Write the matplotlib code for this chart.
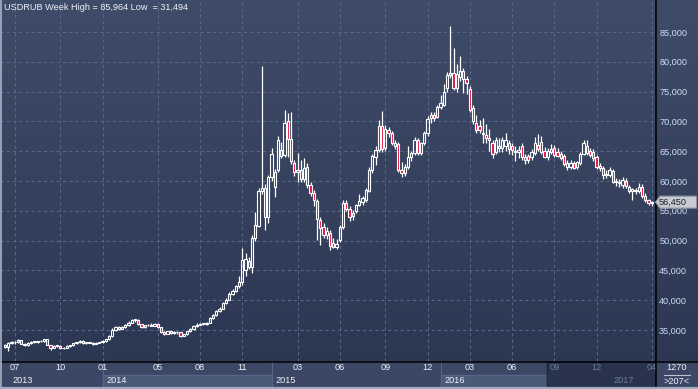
import numpy as np
import pandas as pd
import matplotlib
matplotlib.use('Agg')
import matplotlib.pyplot as plt
from matplotlib.lines import Line2D
from matplotlib.patches import Rectangle, Polygon
from matplotlib.transforms import IdentityTransform
from matplotlib.colors import LinearSegmentedColormap

plt.rcParams['font.family'] = ['Liberation Sans', 'DejaVu Sans']

# ---------------- data (weekly USDRUB, thousands of roubles) ----------------
opens = [32.45, 32.15, 32.85, 32.90, 32.95, 33.30, 32.70, 32.40, 32.80, 33.00,
         32.95, 33.10, 33.15, 33.40, 32.50, 32.00, 32.35, 32.30, 31.90, 32.00,
         32.35, 32.40, 32.75, 32.90, 33.15, 32.80, 32.95, 32.85, 32.65, 32.85,
         32.95, 33.15, 33.40, 34.00, 34.95, 35.50, 35.15, 35.55, 35.80, 36.25,
         36.75, 36.65, 35.95, 35.55, 35.75, 35.80, 35.70, 35.95, 35.45, 34.65,
         34.40, 34.75, 34.55, 34.70, 34.60, 34.05, 34.30, 34.75, 35.15, 35.65,
         35.90, 36.05, 36.00, 36.20, 36.95, 37.50, 38.10, 38.55, 39.45, 40.10,
         41.00, 41.60, 42.30, 43.00, 45.00, 46.60, 45.60, 50.40, 52.50, 58.30,
         58.80, 53.90, 60.70, 59.00, 61.80, 65.20, 64.40, 70.10, 67.00, 63.00,
         61.50, 61.80, 60.30, 62.30, 59.30, 58.00, 56.60, 53.50, 52.30, 50.90,
         51.30, 49.60, 49.00, 50.10, 52.30, 56.30, 55.30, 54.60, 55.00, 56.00,
         56.40, 56.80, 58.40, 61.80, 64.10, 65.20, 69.20, 65.50, 68.60, 68.00,
         66.40, 66.20, 61.80, 61.30, 62.40, 64.10, 64.70, 66.90, 64.70, 66.40,
         68.00, 70.50, 71.10, 70.80, 72.40, 72.80, 75.60, 77.80, 78.10, 75.60,
         77.50, 78.50, 77.10, 75.40, 72.20, 69.80, 69.30, 67.80, 67.70, 67.20,
         66.40, 64.90, 65.90, 65.50, 65.80, 66.30, 65.80, 65.10, 64.90, 65.90,
         63.60, 64.20, 64.00, 64.70, 66.00, 64.90, 65.10, 64.10, 64.90, 65.50,
         64.90, 64.60, 64.20, 63.00, 62.40, 63.00, 62.40, 63.00, 64.50, 65.80,
         65.00, 64.90, 64.00, 62.50, 62.10, 61.00, 61.00, 61.60, 59.90, 59.70,
         59.30, 60.00, 59.00, 58.30, 58.30, 58.40, 59.00, 57.50, 56.80, 56.30]
highs = [32.60, 32.95, 33.10, 33.10, 33.40, 33.35, 32.85, 32.90, 33.10, 33.15,
         33.20, 33.30, 33.50, 33.45, 32.55, 32.45, 32.50, 32.40, 32.10, 32.45,
         32.55, 32.85, 33.05, 33.30, 33.25, 33.05, 33.05, 33.00, 32.95, 33.05,
         33.30, 33.55, 34.20, 35.30, 35.70, 35.65, 35.70, 36.00, 36.50, 36.90,
         36.85, 36.80, 36.00, 35.90, 36.00, 36.10, 36.15, 36.00, 35.50, 34.80,
         34.90, 34.90, 34.85, 34.80, 34.65, 34.40, 34.90, 35.30, 35.80, 36.10,
         36.20, 36.25, 36.40, 37.20, 37.70, 38.30, 38.80, 39.70, 40.30, 41.30,
         41.80, 42.60, 44.00, 48.80, 47.90, 47.20, 51.00, 54.80, 58.80, 79.30,
         59.50, 61.00, 65.50, 62.00, 67.50, 66.50, 71.90, 71.40, 71.60, 63.50,
         64.70, 63.50, 63.80, 63.00, 59.80, 58.50, 57.00, 54.00, 53.00, 52.30,
         51.80, 50.50, 50.30, 52.60, 56.80, 56.80, 55.80, 55.20, 56.20, 57.80,
         57.50, 58.90, 62.30, 64.60, 65.80, 70.30, 71.70, 69.40, 69.00, 68.40,
         66.80, 66.50, 63.20, 62.80, 65.80, 65.00, 67.30, 67.20, 66.60, 68.40,
         70.90, 71.60, 71.60, 72.80, 74.40, 76.20, 78.30, 85.964, 82.30, 79.70,
         80.90, 79.00, 77.60, 76.00, 72.80, 71.00, 70.20, 70.60, 69.60, 68.80,
         66.80, 67.40, 67.20, 67.40, 68.10, 66.80, 66.40, 65.80, 65.90, 66.30,
         64.50, 64.60, 65.30, 67.40, 67.80, 67.60, 65.70, 65.60, 66.20, 66.00,
         65.50, 65.00, 64.50, 63.50, 63.50, 63.30, 63.40, 64.90, 66.90, 66.80,
         65.60, 65.30, 64.30, 63.00, 62.50, 61.80, 62.30, 62.00, 60.50, 60.30,
         60.60, 60.50, 59.40, 58.90, 58.80, 59.60, 59.50, 57.90, 57.00, 56.70]
lows = [32.05, 31.494, 32.60, 32.70, 32.85, 32.60, 32.30, 32.30, 32.70, 32.85,
        32.85, 32.95, 33.05, 32.40, 31.70, 31.95, 32.20, 31.80, 31.75, 31.90,
        32.20, 32.35, 32.65, 32.80, 32.70, 32.70, 32.75, 32.55, 32.60, 32.75,
        32.85, 33.05, 33.35, 33.90, 34.80, 35.05, 35.10, 35.40, 35.70, 36.10,
        36.40, 35.80, 35.40, 35.40, 35.60, 35.65, 35.60, 35.40, 34.50, 34.20,
        34.30, 34.40, 34.40, 34.35, 33.80, 33.95, 34.20, 34.65, 35.05, 35.55,
        35.75, 35.85, 35.90, 36.10, 36.85, 37.40, 37.95, 38.45, 39.30, 40.00,
        40.80, 41.40, 42.00, 42.50, 44.00, 45.20, 44.50, 50.00, 52.20, 57.80,
        51.80, 53.00, 60.00, 57.30, 61.50, 63.80, 64.00, 64.00, 62.80, 60.80,
        59.80, 59.90, 59.80, 58.80, 57.50, 55.80, 50.10, 49.30, 50.50, 50.30,
        48.50, 48.70, 48.60, 49.80, 52.00, 55.00, 53.20, 53.50, 54.60, 55.80,
        56.00, 56.50, 58.10, 61.40, 62.70, 64.90, 64.90, 65.00, 67.40, 66.00,
        65.30, 61.50, 60.70, 60.90, 62.00, 63.40, 64.30, 64.30, 64.40, 66.10,
        67.60, 69.80, 70.00, 70.50, 72.00, 72.50, 75.00, 77.20, 75.20, 75.00,
        76.80, 74.80, 74.60, 71.50, 69.50, 68.00, 68.00, 66.40, 66.30, 65.00,
        63.80, 64.50, 64.80, 64.80, 65.00, 64.60, 64.30, 63.40, 63.80, 63.50,
        62.90, 63.00, 63.50, 64.40, 65.00, 64.50, 63.80, 63.60, 64.50, 64.00,
        64.00, 63.50, 62.50, 61.80, 62.00, 62.00, 62.00, 62.70, 64.30, 64.30,
        64.00, 63.40, 62.00, 61.70, 60.30, 60.50, 60.70, 59.60, 59.20, 59.00,
        58.90, 58.90, 58.00, 56.80, 57.80, 58.00, 57.20, 56.50, 55.90, 55.80]
closes = [32.15, 32.85, 32.90, 32.95, 33.30, 32.70, 32.40, 32.80, 33.00, 32.95,
          33.10, 33.15, 33.40, 32.50, 32.00, 32.35, 32.30, 31.90, 32.00, 32.35,
          32.40, 32.75, 32.90, 33.15, 32.80, 32.95, 32.85, 32.65, 32.85, 32.95,
          33.15, 33.40, 34.00, 34.95, 35.50, 35.15, 35.55, 35.80, 36.25, 36.75,
          36.65, 35.95, 35.55, 35.75, 35.80, 35.70, 35.95, 35.45, 34.65, 34.40,
          34.75, 34.55, 34.70, 34.60, 34.05, 34.30, 34.75, 35.15, 35.65, 35.90,
          36.05, 36.00, 36.20, 36.95, 37.50, 38.10, 38.55, 39.45, 40.10, 41.00,
          41.60, 42.30, 43.00, 46.80, 46.90, 45.60, 50.50, 52.60, 58.30, 58.80,
          53.90, 60.70, 64.50, 61.50, 66.90, 64.20, 69.70, 67.00, 63.40, 61.50,
          61.90, 60.30, 62.20, 59.30, 58.00, 56.80, 53.60, 52.10, 50.90, 51.60,
          49.10, 49.00, 49.50, 52.30, 56.30, 55.30, 54.00, 54.10, 56.00, 56.60,
          57.10, 58.50, 61.80, 64.20, 65.20, 69.20, 65.40, 68.70, 68.00, 66.40,
          65.80, 61.80, 61.30, 62.40, 64.10, 64.70, 66.90, 64.70, 66.40, 68.10,
          70.40, 71.00, 70.60, 72.40, 73.10, 75.00, 77.80, 78.10, 75.60, 77.90,
          78.50, 77.10, 76.40, 71.90, 70.00, 68.60, 68.60, 68.10, 67.20, 66.80,
          64.50, 66.90, 65.50, 66.80, 66.90, 65.30, 65.20, 64.90, 65.20, 64.00,
          64.10, 63.60, 64.90, 66.40, 65.30, 66.60, 64.10, 65.10, 65.30, 64.40,
          64.20, 63.90, 62.90, 62.40, 63.00, 62.20, 63.20, 64.60, 66.30, 64.70,
          64.40, 63.80, 62.40, 62.10, 61.00, 61.20, 61.80, 59.90, 60.00, 59.90,
          60.20, 59.20, 58.40, 58.70, 58.50, 59.00, 57.40, 56.80, 56.30, 56.45]

first_week = '2013-06-10'
tick_months = ['2013-07', '2013-10', '2014-01', '2014-05', '2014-08', '2014-11',
               '2015-03', '2015-06', '2015-09', '2015-12', '2016-03', '2016-06',
               '2016-09', '2016-12', '2017-04']
tick_labels = ['07', '10', '01', '05', '08', '11', '03', '06', '09', '12',
               '03', '06', '09', '12', '04']
year_labels = ['2013', '2014', '2015', '2016', '2017']
price_ticks = [35, 40, 45, 50, 55, 60, 65, 70, 75, 80, 85]
bars_label = '1270'
visible_label = '>207<'

# ---------------- layout helpers ----------------
W, H = 698, 389
PX_PER_BAR = 3.25
FIRST_BAR_PX = 5.0
PLOT_R = 655
AX_BOTTOM = 361
Y_TOP = 90.37
Y_BOT = 29.79

n = len(closes)
x = np.arange(n)
weeks = pd.date_range(first_week, periods=n, freq='7D')


def bar_of(date_str):
    d = pd.Timestamp(date_str)
    return int(np.searchsorted(weeks.values, d.to_datetime64()))


tick_pos = [bar_of(m + '-01') for m in tick_months]
year_pos = [bar_of(y + '-01-01') for y in year_labels]

xlim = (-FIRST_BAR_PX / PX_PER_BAR, (PLOT_R - FIRST_BAR_PX) / PX_PER_BAR)

fig = plt.figure(figsize=(W / 100, H / 100), dpi=100)

# background gradient
bgax = fig.add_axes([0, 0, 1, 1], zorder=0)
cmap = LinearSegmentedColormap.from_list('bg', ['#3f4c69', '#2b3651'])
grad = np.linspace(0, 1, 256).reshape(-1, 1)
bgax.imshow(grad, aspect='auto', cmap=cmap, extent=[0, 1, 0, 1],
            transform=bgax.transAxes, interpolation='bilinear')
bgax.set_axis_off()

ax = fig.add_axes([0, (H - AX_BOTTOM) / H, PLOT_R / W, AX_BOTTOM / H], zorder=2)
ax.set_facecolor('none')
ax.set_xlim(*xlim)
ax.set_ylim(Y_BOT, Y_TOP)
for s in ax.spines.values():
    s.set_visible(False)

grid_col = '#58678a'
for p in price_ticks:
    ax.axhline(p, color=grid_col, lw=0.75, ls=(0, (3, 3)), zorder=1)
for t in tick_pos:
    ax.axvline(t, color=grid_col, lw=0.75, ls=(0, (3, 3)), zorder=1)

o = np.array(opens)
c = np.array(closes)
hi = np.array(highs)
lo = np.array(lows)
top = np.maximum(o, c)
bot = np.minimum(o, c)
ax.vlines(x, lo, bot, color='white', lw=0.9, zorder=3)
ax.vlines(x, top, hi, color='white', lw=0.9, zorder=3)
heights = np.maximum(top - bot, 0.12)
faces = ['#e3133f' if cc < oo else 'none' for oo, cc in zip(o, c)]
ax.bar(x, heights, bottom=bot, width=0.62, color=faces, edgecolor='white',
       linewidth=0.8, zorder=4)

ax.set_xticks([])
ax.yaxis.tick_right()
ax.set_yticks(price_ticks)
ax.set_yticklabels([f"{int(p * 1000):,}" for p in price_ticks])
ax.tick_params(axis='y', length=0, pad=3, labelsize=6.6, labelcolor='#cddcf2')

# header
ax.text(4 / PLOT_R, 1 - 8 / AX_BOTTOM,
        f"USDRUB Week High = {max(highs) * 1000:,.0f} Low  = {min(lows) * 1000:,.0f}",
        transform=ax.transAxes, ha='left', va='center', fontsize=6.6,
        color='#eef1f6')

# ---------------- bottom time panel ----------------
axb = fig.add_axes([0, 0, PLOT_R / W, (H - AX_BOTTOM) / H], zorder=2)
axb.set_xlim(*xlim)
axb.set_ylim(0, H - AX_BOTTOM)
axb.set_facecolor('#3b4764')
axb.set_axis_off()
axb.add_patch(Rectangle((xlim[0], 0), xlim[1] - xlim[0], 28, color='#3b4764', zorder=0))
shade_start = (547 - FIRST_BAR_PX) / PX_PER_BAR
band_col = '#4b5a78'
yb = list(year_pos) + [xlim[1]]
for k in range(len(year_labels)):
    x0 = max(yb[k], xlim[0]) if k > 0 else xlim[0]
    x1 = min(yb[k + 1], shade_start)
    if k % 2 == 1 and x1 > x0:
        axb.add_patch(Rectangle((x0, 2), x1 - x0, 12.5, color=band_col, zorder=1))
        axb.plot([x0, x1], [14.5, 14.5], color='#56668a', lw=0.8, zorder=2)
axb.add_patch(Rectangle((shade_start, 2), xlim[1] - shade_start, 26, color='#29334e', zorder=3))
axb.plot([shade_start, shade_start], [2, 28], color='#222a40', lw=1, zorder=4)
for k in range(1, len(year_labels)):
    if year_pos[k] < shade_start:
        axb.plot([year_pos[k], year_pos[k]], [2, 28], color='#56668a', lw=0.8, zorder=2)
for t, lab in zip(tick_pos, tick_labels):
    col = '#eef2f8' if t < shade_start else '#6f7e98'
    axb.text(t, 21, lab, ha='center', va='center', fontsize=6.6, color=col, zorder=5)
for k, lab in enumerate(year_labels):
    xp = (yb[k] if k > 0 else xlim[0] + 2.5) + 1.2
    col = '#eef2f8' if xp < shade_start else '#6f7e98'
    axb.text(xp, 8.5, lab, ha='left', va='center', fontsize=6.6, color=col, zorder=5)

# bottom-right corner panel
axr = fig.add_axes([(PLOT_R + 1) / W, 0, (W - PLOT_R - 1) / W, (H - AX_BOTTOM) / H], zorder=2)
axr.set_xlim(0, 1)
axr.set_ylim(0, H - AX_BOTTOM)
axr.set_facecolor('#3b4764')
axr.set_axis_off()
axr.add_patch(Rectangle((0, 0), 1, 28, color='#3b4764', zorder=0))
axr.text(0.5, 21.5, bars_label, ha='center', va='center', fontsize=6.6, color='#eef2f8')
axr.text(0.5, 7.5, visible_label, ha='center', va='center', fontsize=6.6, color='#eef2f8')
axr.plot([0.18, 0.82], [14.5, 14.5], color='#b9c2d2', lw=0.8)

# separator lines and frame
ident = IdentityTransform()
fig.add_artist(Line2D([PLOT_R + 0.5, PLOT_R + 0.5], [0, H], color='black', lw=1.1,
                      transform=ident, zorder=6))
fig.add_artist(Line2D([0, W], [H - AX_BOTTOM - 0.5, H - AX_BOTTOM - 0.5], color='black',
                      lw=1.1, transform=ident, zorder=6))
fig.add_artist(Line2D([0.7, 0.7], [0, H], color='#aab3c3', lw=1.2, transform=ident, zorder=6))
fig.add_artist(Line2D([0, W], [1.0, 1.0], color='#9fabc0', lw=1.6, transform=ident, zorder=6))

# last price marker
fig.canvas.draw()
yd = ax.transData.transform((0, closes[-1]))[1]
xr = PLOT_R
poly = Polygon([[xr + 0.5, yd], [xr + 5, yd + 6], [W - 1.5, yd + 6], [W - 1.5, yd - 6],
                [xr + 5, yd - 6]], closed=True, facecolor='#c7cbd3', edgecolor='#8d939e',
               lw=0.8, transform=ident, zorder=7)
fig.add_artist(poly)
fig.text((xr + 4) / W, yd / H, f"{closes[-1] * 1000:,.0f}", ha='left', va='center',
         fontsize=6.6, color='#1c1f26', zorder=8)

fig.savefig('out.png', dpi=100)
